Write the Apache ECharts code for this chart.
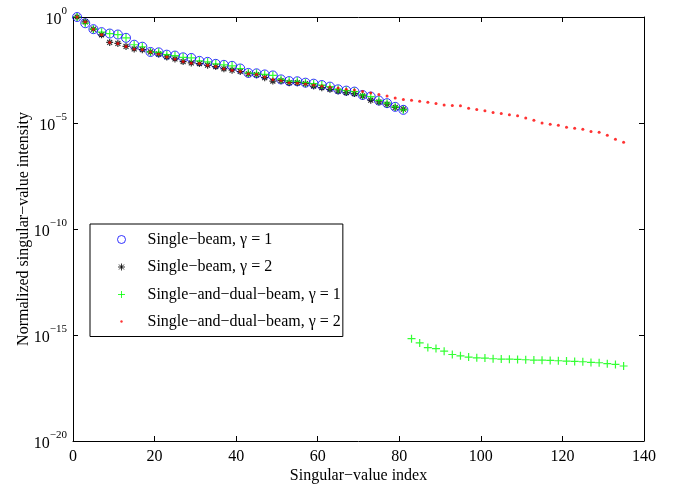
<!DOCTYPE html>
<html>
<head>
<meta charset="utf-8">
<script src="https://cdn.jsdelivr.net/npm/echarts@6/dist/echarts.min.js"></script>
<style>
html,body{margin:0;padding:0;background:#fff;}
#chart{width:677px;height:489px;}
</style>
</head>
<body>
<div id="chart"></div>
<script>
// Singular-value indices
var idxSingle = [1,3,5,7,9,11,13,15,17,19,21,23,25,27,29,31,33,35,37,39,41,43,45,47,49,51,53,55,57,59,61,63,65,67,69,71,73,75,77,79,81];
var idxDual = [1,3,5,7,9,11,13,15,17,19,21,23,25,27,29,31,33,35,37,39,41,43,45,47,49,51,53,55,57,59,61,63,65,67,69,71,73,75,77,79,81,
  83,85,87,89,91,93,95,97,99,101,103,105,107,109,111,113,115,117,119,121,123,125,127,129,131,133,135];

// Single-beam, gamma = 1
var singleG1 = [1,5.08e-1,2.67e-1,1.93e-1,1.66e-1,1.49e-1,1.04e-1,4.92e-2,3.96e-2,2.24e-2,2.15e-2,1.67e-2,1.51e-2,1.25e-2,1.17e-2,
  8.51e-3,7.64e-3,6.17e-3,5.53e-3,4.97e-3,3.72e-3,2.3e-3,2.2e-3,1.95e-3,1.75e-3,1.14e-3,9.48e-4,9.3e-4,7.98e-4,7.16e-4,
  6.17e-4,5.19e-4,3.88e-4,3.37e-4,3.03e-4,2.10e-4,1.77e-4,1.15e-4,8.61e-5,5.78e-5,4.18e-5];

// Single-beam, gamma = 2
var singleG2 = [1,5.83e-1,2.66e-1,1.44e-1,6.30e-2,5.65e-2,4.09e-2,3.10e-2,2.87e-2,2.24e-2,1.81e-2,1.31e-2,1.05e-2,7.89e-3,6.85e-3,
  6.37e-3,5.30e-3,4.61e-3,3.60e-3,3.10e-3,2.69e-3,2.10e-3,1.89e-3,1.37e-3,9.48e-4,9.89e-4,7.98e-4,7.98e-4,7.16e-4,5.53e-4,
  4.66e-4,3.88e-4,3.23e-4,2.72e-4,2.44e-4,1.89e-4,1.19e-4,9.89e-5,7.73e-5,5.42e-5,4.51e-5];

// Single-and-dual-beam, gamma = 1
var dualG1 = [1,5.08e-1,2.67e-1,1.93e-1,1.66e-1,1.49e-1,1.04e-1,4.92e-2,3.96e-2,2.24e-2,2.15e-2,1.67e-2,1.51e-2,1.25e-2,1.17e-2,
  8.51e-3,7.64e-3,6.17e-3,5.53e-3,4.97e-3,3.72e-3,2.3e-3,2.2e-3,1.95e-3,1.75e-3,1.14e-3,9.48e-4,9.3e-4,7.98e-4,7.16e-4,
  6.17e-4,5.19e-4,3.88e-4,3.37e-4,3.03e-4,2.10e-4,1.77e-4,1.15e-4,8.61e-5,5.78e-5,4.18e-5,
  6.71e-16,4.23e-16,2.55e-16,2.29e-16,1.73e-16,1.20e-16,1.04e-16,9.08e-17,8.41e-17,8.15e-17,7.57e-17,7.31e-17,7.2e-17,7.02e-17,
  6.79e-17,6.58e-17,6.5e-17,6.30e-17,6.10e-17,5.90e-17,5.65e-17,5.47e-17,5.08e-17,4.92e-17,4.42e-17,4.09e-17,3.44e-17];

// Single-and-dual-beam, gamma = 2
var dualG2 = [1,5.83e-1,2.66e-1,1.44e-1,6.30e-2,5.65e-2,4.09e-2,3.10e-2,2.87e-2,2.24e-2,1.81e-2,1.31e-2,1.05e-2,7.89e-3,6.85e-3,
  6.37e-3,5.30e-3,4.61e-3,3.60e-3,3.10e-3,2.69e-3,2.10e-3,
  2.0e-3,1.48e-3,1.12e-3,1.0e-3,7.98e-4,7.6e-4,6.9e-4,6.17e-4,5.62e-4,5.0e-4,4.47e-4,3.88e-4,3.60e-4,3.03e-4,2.63e-4,2.19e-4,1.86e-4,1.51e-4,1.30e-4,
  1.19e-4,1.07e-4,9.57e-5,8.34e-5,7.16e-5,6.71e-5,6.43e-5,5.02e-5,4.37e-5,3.76e-5,3.16e-5,2.84e-5,2.43e-5,2.19e-5,1.71e-5,1.34e-5,
  1.0e-5,8.69e-6,7.82e-6,6.30e-6,5.65e-6,5.08e-6,3.92e-6,3.67e-6,2.66e-6,1.73e-6,1.25e-6];

var seriesNames = ['Single\u2212beam, \u03b3 = 1','Single\u2212beam, \u03b3 = 2','Single\u2212and\u2212dual\u2212beam, \u03b3 = 1','Single\u2212and\u2212dual\u2212beam, \u03b3 = 2'];
var xTicks = {min:0, max:140, interval:20};

function pairs(xs, ys){ return xs.map(function(x,i){ return [x, ys[i]]; }); }

var FONT = 'Liberation Serif';
var chart = echarts.init(document.getElementById('chart'), null, {renderer:'canvas'});

var axisLineStyle = {color:'#000', width:1};
var xBase = {
  type:'value', min:xTicks.min, max:xTicks.max, interval:xTicks.interval,
  axisLine:{show:true, onZero:false, lineStyle:axisLineStyle},
  axisTick:{show:true, inside:true, length:5, lineStyle:axisLineStyle},
  splitLine:{show:false}
};
var yBase = {
  type:'log', logBase:10, min:1e-20, max:1, interval:5, splitNumber:4,
  axisLine:{show:true, onZero:false, lineStyle:axisLineStyle},
  axisTick:{show:true, inside:true, length:5, lineStyle:axisLineStyle},
  splitLine:{show:false}, minorTick:{show:false}
};

var STAR = 'path://M5,0L5,10M0,5L10,5M1.5,1.5L8.5,8.5M8.5,1.5L1.5,8.5';
var PLUS = 'path://M5,0L5,10M0,5L10,5';

var option = {
  backgroundColor:'#fff',
  animation:false,
  grid:{left:73, right:33, top:17, bottom:44, containLabel:false},
  xAxis:[
    Object.assign({}, xBase, {
      position:'bottom',
      axisLabel:{show:true, margin:8, color:'#000', fontFamily:FONT, fontSize:16},
      name:'Singular\u2212value index', nameLocation:'middle', nameGap:27, nameMoveOverlap:false,
      nameTextStyle:{color:'#000', fontFamily:FONT, fontSize:16}
    }),
    Object.assign({}, xBase, {position:'top', axisLabel:{show:false}})
  ],
  yAxis:[
    Object.assign({}, yBase, {
      position:'left',
      axisLabel:{
        show:true, margin:6, color:'#000',
        formatter:function(v){
          var e = Math.round(Math.log(v)/Math.LN10);
          var s = e < 0 ? '\u2212' + (-e) : String(e);
          return '{b|10}{s|' + s + '}';
        },
        rich:{
          b:{fontFamily:FONT, fontSize:16, color:'#000', lineHeight:22, verticalAlign:'bottom'},
          s:{fontFamily:FONT, fontSize:11, color:'#000', lineHeight:22, verticalAlign:'top'}
        }
      },
      name:'Normalized singular\u2212value intensity', nameLocation:'middle', nameGap:41, nameMoveOverlap:false,
      nameTextStyle:{color:'#000', fontFamily:FONT, fontSize:16}
    }),
    Object.assign({}, yBase, {position:'right', axisLabel:{show:false}})
  ],
  legend:{
    orient:'vertical', left:90, top:224,
    padding:[7,2,7,23],
    itemWidth:27, itemHeight:12, itemGap:10.5,
    borderColor:'#000', borderWidth:1, backgroundColor:'#fff',
    selectedMode:false,
    textStyle:{color:'#000', fontFamily:FONT, fontSize:16, lineHeight:16},
    data:[
      {name:seriesNames[0], icon:'path://M0,0M27,12M2,6a4,4 0 1,0 8,0a4,4 0 1,0 -8,0', itemStyle:{color:'none', borderColor:'#0000ff', borderWidth:1}},
      {name:seriesNames[1], icon:'path://M0,0M27,12M6,2.5L6,9.5M2.5,6L9.5,6M3.5,3.5L8.5,8.5M8.5,3.5L3.5,8.5', itemStyle:{color:'none', borderColor:'#000', borderWidth:1}},
      {name:seriesNames[2], icon:'path://M0,0M27,12M2.5,6L9.5,6M6,2.5L6,9.5', itemStyle:{color:'none', borderColor:'#00ff00', borderWidth:1}},
      {name:seriesNames[3], icon:'path://M0,0M27,12M4.8,6a1.2,1.2 0 1,0 2.4,0a1.2,1.2 0 1,0 -2.4,0', itemStyle:{color:'#ff0000', borderWidth:0}}
    ]
  },
  series:[
    {name:seriesNames[0], type:'scatter', xAxisIndex:0, yAxisIndex:0, data:pairs(idxSingle, singleG1),
      symbol:'circle', symbolSize:9, itemStyle:{color:'rgba(0,0,0,0)', borderColor:'#0000ff', borderWidth:1}, z:2},
    {name:seriesNames[1], type:'scatter', xAxisIndex:0, yAxisIndex:0, data:pairs(idxSingle, singleG2),
      symbol:STAR, symbolSize:7, itemStyle:{color:'none', borderColor:'#000', borderWidth:1.2}, z:3},
    {name:seriesNames[2], type:'scatter', xAxisIndex:0, yAxisIndex:0, data:pairs(idxDual, dualG1),
      symbol:PLUS, symbolSize:8, itemStyle:{color:'none', borderColor:'#00ff00', borderWidth:1.2}, z:4},
    {name:seriesNames[3], type:'scatter', xAxisIndex:0, yAxisIndex:0, data:pairs(idxDual, dualG2),
      symbol:'circle', symbolSize:3, itemStyle:{color:'#ff0000', borderWidth:0}, z:5}
  ]
};
chart.setOption(option);
</script>
</body>
</html>
